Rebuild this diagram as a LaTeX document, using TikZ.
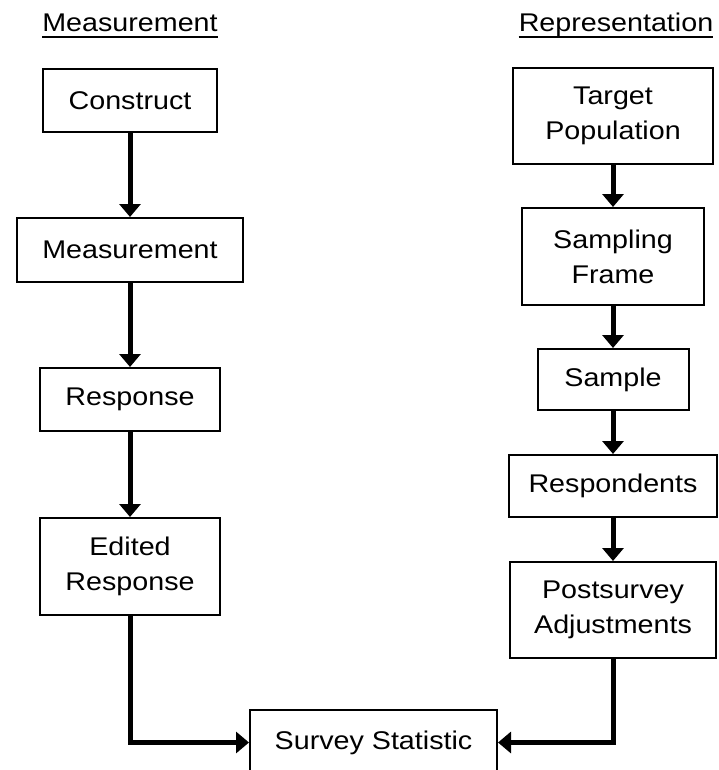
\documentclass[tikz,border=0pt]{standalone}
\usepackage{fontspec}
\setmainfont{Liberation Sans}[FakeStretch=1.12]
\usetikzlibrary{arrows.meta}

\begin{document}
\begin{tikzpicture}[x=1pt,y=-1pt,
        box/.style={draw,line width=2pt,inner sep=0pt,align=center,font=\fontsize{25.6}{35}\selectfont},
        hdr/.style={inner sep=0pt,anchor=base,font=\fontsize{25.6}{35}\selectfont},
        flow/.style={line width=5pt,-{Triangle[width=21pt,length=13pt]}}]
                \useasboundingbox (0,0) rectangle (718,770);
                % headers
                \node[hdr] (hmeas) at (130,32) {Measurement};
                \node[hdr] (hrep) at (616,32) {Representation};
                \draw[line width=1.6pt] ([yshift=-5pt]hmeas.base west) -- ([yshift=-5pt]hmeas.base east);
                \draw[line width=1.6pt] ([yshift=-5pt]hrep.base west) -- ([yshift=-5pt]hrep.base east);
                % measurement side
                \node[box,minimum width=174pt,minimum height=63pt] (construct) at (130,100.5) {Construct};
                \node[box,minimum width=226pt,minimum height=64pt] (measure) at (130,250) {Measurement};
                \node[box,minimum width=180pt,minimum height=63pt] (response) at (130,399.5) {Response};
                \node[box,minimum width=180pt,minimum height=97pt] (edited) at (130,566.5) {Edited\\Response};
                % representation side
                \node[box,minimum width=200pt,minimum height=96pt] (target) at (613,116) {Target\\Population};
                \node[box,minimum width=182pt,minimum height=97pt] (frame) at (613,256.5) {Sampling\\Frame};
                \node[box,minimum width=151pt,minimum height=61pt] (sample) at (613,379.5) {Sample};
                \node[box,minimum width=208pt,minimum height=62pt] (resp) at (613,486) {Respondents};
                \node[box,minimum width=206pt,minimum height=96pt] (adjust) at (613,610) {Postsurvey\\Adjustments};
                % statistic
                \node[box,minimum width=247pt,minimum height=65pt] (stat) at (373.5,742.5) {Survey Statistic};
                \draw[flow] (construct) -- (measure);
                \draw[flow] (measure) -- (response);
                \draw[flow] (response) -- (edited);
                \draw[flow] (target) -- (frame);
                \draw[flow] (frame) -- (sample);
                \draw[flow] (sample) -- (resp);
                \draw[flow] (resp) -- (adjust);
                \draw[flow] (edited.south) |- (stat.west);
                \draw[flow] (adjust.south) |- (stat.east);
            \end{tikzpicture}
\end{document}
